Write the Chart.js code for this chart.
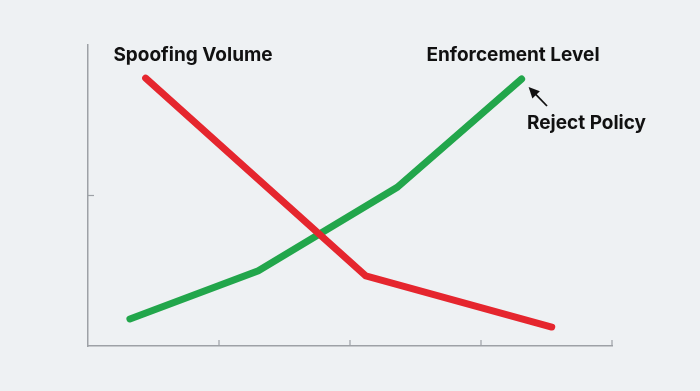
<!DOCTYPE html>
<html>
<head>
<meta charset="utf-8">
<script src="https://cdn.jsdelivr.net/npm/chart.js@4"></script>
<style>
  html, body { margin: 0; padding: 0; background: #eef1f3; }
  #wrap { width: 700px; height: 391px; position: relative; }
</style>
</head>
<body>
<div id="wrap"><canvas id="c"></canvas></div>
<script>
'use strict';

// x: stage (0..4), y: relative level (0..100)
const SPOOF_X = [0.44, 2.12, 3.54];
const SPOOF_Y = [89, 23.3, 6.3];
const ENFORCE_X = [0.32, 1.30, 2.36, 3.31];
const ENFORCE_Y = [9, 25, 52.7, 88.7];
const X_TICKS = [0, 1, 2, 3, 4];
const Y_TICKS = [50];

const RED = '#e5262e';
const GREEN = '#22a64b';
const AXIS = '#9da1a6';
const FONT = 'bold 19px Inter, "Liberation Sans", sans-serif';

const pts = (xs, ys) => xs.map((x, i) => ({ x, y: ys[i] }));

// inward tick marks + text annotations
const decor = {
  id: 'decor',
  afterDraw(chart) {
    const { ctx, scales: { x, y } } = chart;
    ctx.save();
    ctx.strokeStyle = AXIS;
    ctx.lineWidth = 1.2;
    X_TICKS.slice(1).forEach(v => {
      const px = x.getPixelForValue(v);
      ctx.beginPath(); ctx.moveTo(px, y.bottom); ctx.lineTo(px, y.bottom - 6); ctx.stroke();
    });
    Y_TICKS.forEach(v => {
      const py = y.getPixelForValue(v);
      ctx.beginPath(); ctx.moveTo(x.left, py); ctx.lineTo(x.left + 6, py); ctx.stroke();
    });

    ctx.fillStyle = '#111';
    ctx.font = FONT;
    ctx.textBaseline = 'middle';
    ctx.textAlign = 'center';
    ctx.fillText('Spoofing Volume', 193, 55);
    ctx.fillText('Enforcement Level', 513, 55);
    ctx.textAlign = 'left';
    ctx.fillText('Reject Policy', 527, 123);

    // arrow pointing at the end of the green line
    const ex = x.getPixelForValue(ENFORCE_X[3]) + 7;
    const ey = y.getPixelForValue(ENFORCE_Y[3]) + 8;
    ctx.strokeStyle = '#111';
    ctx.lineWidth = 1.8;
    ctx.beginPath(); ctx.moveTo(547, 106); ctx.lineTo(ex + 4, ey + 4); ctx.stroke();
    const ang = Math.atan2(ey - 106, ex - 547);
    ctx.beginPath();
    ctx.moveTo(ex, ey);
    ctx.lineTo(ex - 12 * Math.cos(ang - 0.45), ey - 12 * Math.sin(ang - 0.45));
    ctx.lineTo(ex - 12 * Math.cos(ang + 0.45), ey - 12 * Math.sin(ang + 0.45));
    ctx.closePath();
    ctx.fillStyle = '#111';
    ctx.fill();
    ctx.restore();
  }
};

new Chart(document.getElementById('c'), {
  type: 'line',
  data: {
    datasets: [
      { label: 'Spoofing Volume', data: pts(SPOOF_X, SPOOF_Y), borderColor: RED, borderWidth: 7,
        borderCapStyle: 'round', pointRadius: 0, tension: 0 },
      { label: 'Enforcement Level', data: pts(ENFORCE_X, ENFORCE_Y), borderColor: GREEN, borderWidth: 7,
        borderCapStyle: 'round', pointRadius: 0, tension: 0 },
    ],
  },
  options: {
    responsive: true,
    maintainAspectRatio: false,
    animation: false,
    layout: { padding: { left: 88, right: 88, top: 45, bottom: 45 } },
    plugins: { legend: { display: false }, tooltip: { enabled: false } },
    scales: {
      x: {
        type: 'linear', min: 0, max: 4,
        ticks: { display: false },
        grid: { display: false, drawTicks: false },
        border: { display: true, color: AXIS, width: 1.5 },
      },
      y: {
        type: 'linear', min: 0, max: 100,
        ticks: { display: false },
        grid: { display: false, drawTicks: false },
        border: { display: true, color: AXIS, width: 1.5 },
      },
    },
  },
  plugins: [decor],
});
</script>
</body>
</html>
